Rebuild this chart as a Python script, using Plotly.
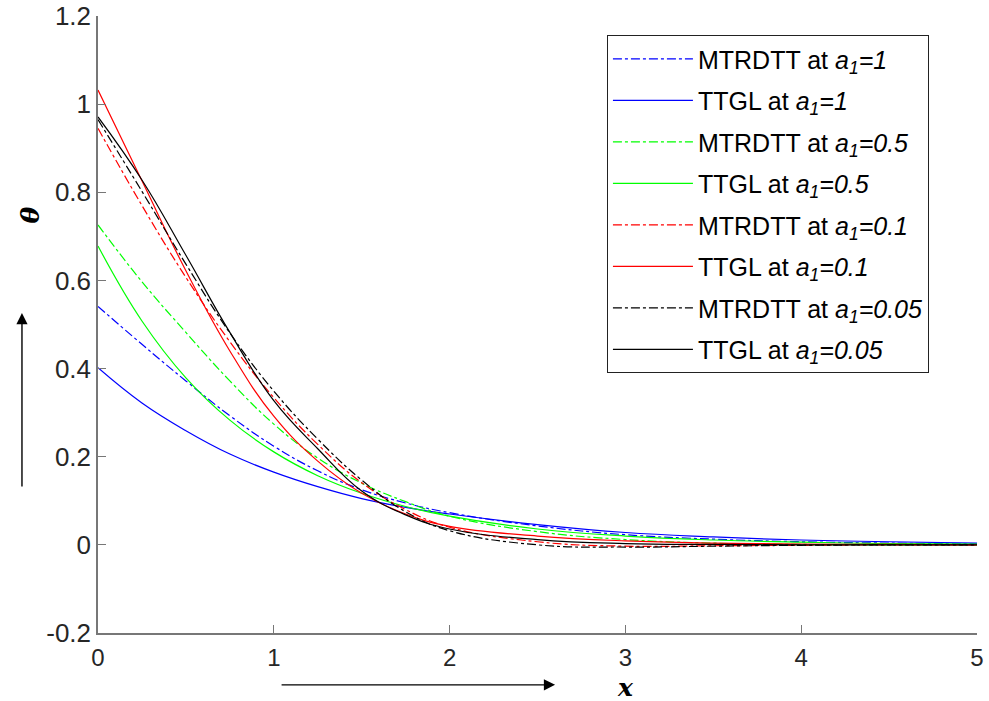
import plotly.graph_objects as go

x = [0, 0.25, 0.5, 0.75, 1.0, 1.25, 1.5, 1.75, 2.0, 2.5, 3.0, 3.5, 4.0, 4.5, 5.0]

mtrdtt_a1_1 = [0.541, 0.455, 0.372, 0.293, 0.224, 0.168, 0.125, 0.095, 0.073, 0.043, 0.023, 0.013, 0.007, 0.004, 0.002]
ttgl_a1_1 = [0.402, 0.322, 0.259, 0.206, 0.165, 0.132, 0.105, 0.085, 0.070, 0.046, 0.028, 0.018, 0.011, 0.007, 0.004]
mtrdtt_a1_05 = [0.726, 0.597, 0.482, 0.372, 0.274, 0.197, 0.140, 0.098, 0.065, 0.030, 0.012, 0.004, 0.001, 0.0, 0.0]
ttgl_a1_05 = [0.678, 0.508, 0.379, 0.283, 0.211, 0.157, 0.117, 0.087, 0.065, 0.036, 0.020, 0.011, 0.006, 0.003, 0.002]
mtrdtt_a1_01 = [0.945, 0.770, 0.607, 0.461, 0.334, 0.228, 0.141, 0.080, 0.040, 0.007, -0.003, -0.002, -0.001, 0.0, 0.0]
ttgl_a1_01 = [1.032, 0.826, 0.622, 0.440, 0.292, 0.190, 0.117, 0.070, 0.042, 0.020, 0.009, 0.004, 0.002, 0.001, 0.0]
mtrdtt_a1_005 = [0.965, 0.802, 0.637, 0.481, 0.349, 0.240, 0.147, 0.075, 0.032, 0.0, -0.005, -0.003, -0.001, 0.0, 0.0]
ttgl_a1_005 = [0.971, 0.828, 0.657, 0.482, 0.327, 0.218, 0.122, 0.068, 0.036, 0.012, 0.003, 0.001, 0.0, 0.0, 0.0]

series = [
    ("MTRDTT at ", "1", mtrdtt_a1_1, "#0000ff", "dashdot"),
    ("TTGL at ", "1", ttgl_a1_1, "#0000ff", "solid"),
    ("MTRDTT at ", "0.5", mtrdtt_a1_05, "#00ff00", "dashdot"),
    ("TTGL at ", "0.5", ttgl_a1_05, "#00ff00", "solid"),
    ("MTRDTT at ", "0.1", mtrdtt_a1_01, "#ff0000", "dashdot"),
    ("TTGL at ", "0.1", ttgl_a1_01, "#ff0000", "solid"),
    ("MTRDTT at ", "0.05", mtrdtt_a1_005, "#000000", "dashdot"),
    ("TTGL at ", "0.05", ttgl_a1_005, "#000000", "solid"),
]

fig = go.Figure()
for i, (pre, a, y, c, d) in enumerate(series):
    fig.add_trace(go.Scatter(
        x=x, y=y, mode="lines",
        line=dict(color=c, dash=d, width=1.2, shape="spline", smoothing=1.2),
        name=f"{pre}<i>a</i><sub><i>1</i></sub><i>={a}</i>",
        legendgroup=f"g{i}",
    ))

axis_col = "#777777"
ytick_font = dict(family="Arial, Liberation Sans, sans-serif", size=26, color="#262626")
xtick_font = dict(family="Arial, Liberation Sans, sans-serif", size=24, color="#262626")

fig.update_layout(
    width=989, height=701,
    margin=dict(l=98, r=12, t=16, b=68),
    paper_bgcolor="white", plot_bgcolor="white",
    showlegend=True,
    legend=dict(
        x=0.579, y=0.969, xanchor="left", yanchor="top",
        bgcolor="white", bordercolor="#222222", borderwidth=1,
        font=dict(family="Arial, Liberation Sans, sans-serif", size=25, color="#000000"),
        tracegroupgap=6, itemwidth=80,
    ),
    xaxis=dict(
        range=[0, 5], tickvals=[0, 1, 2, 3, 4, 5], automargin=False,
        showgrid=False, zeroline=False, showline=True, linecolor=axis_col, linewidth=1.5,
        ticks="inside", ticklen=8, tickcolor=axis_col, tickfont=xtick_font,
        ticklabelstandoff=2,
    ),
    yaxis=dict(
        range=[-0.2, 1.2], tickvals=[-0.2, 0, 0.2, 0.4, 0.6, 0.8, 1.0, 1.2], automargin=False,
        ticktext=["-0.2", "0", "0.2", "0.4", "0.6", "0.8", "1", "1.2"],
        showgrid=False, zeroline=False, showline=True, linecolor=axis_col, linewidth=1.5,
        ticks="inside", ticklen=8, tickcolor=axis_col, tickfont=ytick_font,
    ),
)

title_font = dict(family="DejaVu Serif, Liberation Serif, serif", size=25, color="#000000")
fig.add_annotation(xref="paper", yref="paper", x=0.6, y=-0.088, text="<b><i>x</i></b>",
                   xanchor="center", yanchor="middle", showarrow=False, font=title_font)
fig.add_annotation(xref="paper", yref="paper", x=-0.077, y=0.677, text="<b><i>θ</i></b>",
                   xanchor="center", yanchor="middle", showarrow=False, font=title_font,
                   textangle=-90)

# arrows
fig.add_annotation(xref="paper", yref="paper", x=0.52, y=-0.084, ax=-275, ay=0,
                   axref="pixel", ayref="pixel", text="", showarrow=True,
                   arrowhead=2, arrowsize=1.6, arrowwidth=1.4, arrowcolor="#000000")
fig.add_annotation(xref="paper", yref="paper", x=-0.0865, y=0.5186, ax=0, ay=175,
                   axref="pixel", ayref="pixel", text="", showarrow=True,
                   arrowhead=2, arrowsize=1.6, arrowwidth=1.4, arrowcolor="#000000")

fig.write_html("out.html")
